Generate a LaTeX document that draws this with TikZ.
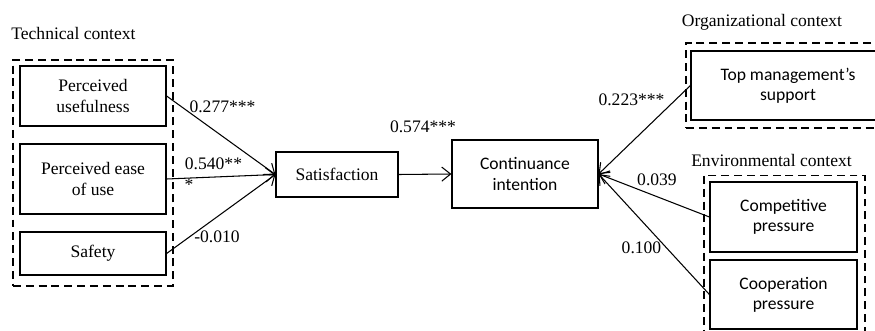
\documentclass[tikz,border=0pt]{standalone}
\usepackage{fontspec}
\setmainfont{Liberation Serif}
\newfontfamily\calibri{Carlito}
\usetikzlibrary{arrows.meta}
\tikzset{
  box/.style={draw, line width=0.7pt, inner sep=0pt, align=center, font=\fontsize{10}{11.5}\selectfont},
  sansbox/.style={box, font=\calibri\fontsize{10}{11.5}\selectfont},
  group/.style={draw, line width=0.7pt, dash pattern=on 4.5pt off 2.8pt, inner sep=0pt},
  coef/.style={inner sep=0pt, font=\fontsize{10}{12}\selectfont},
}
\begin{document}
\begin{tikzpicture}[x=0.02cm, y=-0.02cm]
\clip (0,0) rectangle (875,331);

% context groups
\node[group, minimum width=3.2cm, minimum height=4.52cm] (tech) at (93,173) {};
\node[group, minimum width=4.08cm, minimum height=1.7cm] (org) at (788,85.5) {};
\node[group, minimum width=3.22cm, minimum height=3.3cm] (env) at (784.5,258) {};
\node[coef, anchor=west] (techlabel) at (11,33) {Technical context};
\node[coef] (orglabel) at (762,22) {Organizational context};
\node[coef] (envlabel) at (771.5,160) {Environmental context};

\node[box, minimum width=2.92cm, minimum height=1.2cm] (pu) at (93,96) {Perceived\\usefulness};
\node[box, minimum width=2.92cm, minimum height=1.4cm] (peou) at (93,179) {Perceived ease\\of use};
\node[box, minimum width=2.92cm, minimum height=0.86cm] (safe) at (93,253.5) {Safety};
\node[box, minimum width=2.44cm, minimum height=0.9cm] (sat) at (337,174.5) {Satisfaction};
\node[sansbox, minimum width=2.92cm, minimum height=1.36cm] (ci) at (525,174) {Continuance\\intention};
\node[sansbox, minimum width=3.88cm, minimum height=1.38cm] (tm) at (788,85.5) {Top management’s\\support};
\node[sansbox, minimum width=2.94cm, minimum height=1.4cm] (comp) at (783.5,217) {Competitive\\pressure};
\node[sansbox, minimum width=2.94cm, minimum height=1.38cm] (coop) at (783.5,294.5) {Cooperation\\pressure};

\path[draw,line width=0.6pt,-{Straight Barb[length=5pt,width=8pt]}] (pu.east) -- (sat.west);
\path[draw,line width=0.6pt,-{Straight Barb[length=5pt,width=8pt]}] (peou.east) -- (sat.west);
\path[draw,line width=0.6pt,-{Straight Barb[length=5pt,width=8pt]}] (safe.east) -- (sat.west);
\path[draw,line width=0.6pt,-{Straight Barb[length=5pt,width=8pt]}] (sat.east) -- (ci.west);
\path[draw,line width=0.6pt,-{Straight Barb[length=5pt,width=8pt]}] (tm.west) -- (ci.east);
\path[draw,line width=0.6pt,-{Straight Barb[length=5pt,width=8pt]}] (comp.west) -- (ci.east);
\path[draw,line width=0.6pt,-{Straight Barb[length=5pt,width=8pt]}] (coop.west) -- (ci.east);

% path coefficients
\node[coef] (c1) at (222.5,107) {0.277***};
\node[coef] (c2) at (213.5,164) {0.540**};
\node[coef] (c2b) at (189,185) {*};
\node[coef] (c3) at (217,237) {-0.010};
\node[coef] (c4) at (423,127) {0.574***};
\node[coef] (c5) at (631.5,100) {0.223***};
\node[coef] (c6) at (657,180) {0.039};
\node[coef] (c7) at (641.5,248) {0.100};
\end{tikzpicture}
\end{document}
